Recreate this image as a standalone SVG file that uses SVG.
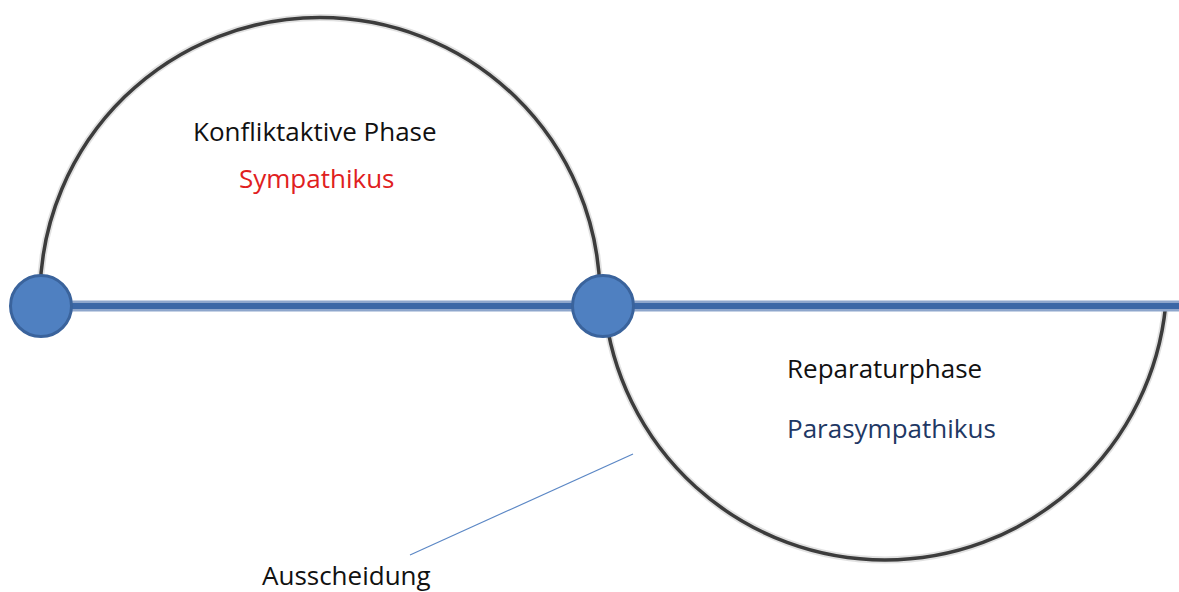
<svg xmlns="http://www.w3.org/2000/svg" width="1179" height="592" viewBox="0 0 1179 592">
<style>
.arc{fill:none;stroke:#3c3c3c;stroke-width:3.5;stroke-linecap:round}
.arch{fill:none;stroke:#bdbdbd;stroke-width:7;opacity:0.45}
.axo{fill:none;stroke:#8ea6cc;stroke-width:11}
.axi{fill:none;stroke:#3b67a6;stroke-width:6}
.node{fill:#4f80c1;stroke:#3a639c;stroke-width:3}
.lbl{font-family:"Open Sans","Liberation Sans",sans-serif;font-size:26px}
</style>
<rect width="1179" height="592" fill="#ffffff"/>
<g id="connectors">
  <path class="arch" d="M40.1,290 A280,280 0 0 1 599.9,290"/>
  <path class="arc" d="M40.1,290 A280,280 0 0 1 599.9,290"/>
  <path class="arch" d="M604.4,306 A282,282 0 0 0 1165.6,306"/>
  <path class="arc" d="M604.4,306 A282,282 0 0 0 1165.6,306"/>
  <line class="axo" x1="41" y1="306" x2="1179" y2="306"/>
  <line class="axi" x1="41" y1="306" x2="1179" y2="306"/>
  <line x1="410" y1="555" x2="633" y2="454" stroke="#5b87c5" stroke-width="1.2"/>
</g>
<g id="node-start"><circle class="node" cx="41" cy="306" r="30.5"/></g>
<g id="node-middle"><circle class="node" cx="603" cy="306" r="30.5"/></g>
<g id="label-konflikt">
  <text class="lbl" x="193" y="141" fill="#111111">Konfliktaktive Phase</text>
  <text class="lbl" x="239" y="188" fill="#e0201e">Sympathikus</text>
</g>
<g id="label-reparatur">
  <text class="lbl" x="787" y="378" fill="#111111">Reparaturphase</text>
  <text class="lbl" x="787" y="438" fill="#1f3864">Parasympathikus</text>
</g>
<g id="label-ausscheidung">
  <text class="lbl" x="262" y="585" fill="#111111">Ausscheidung</text>
</g>
</svg>
